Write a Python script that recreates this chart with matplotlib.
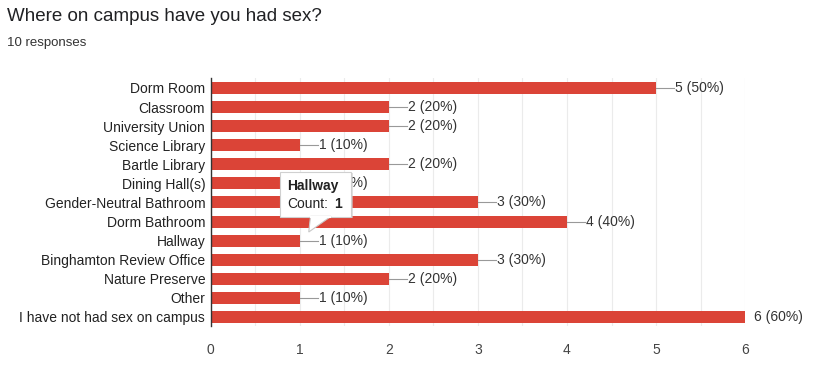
import matplotlib.pyplot as plt
from matplotlib.patches import Polygon

# ---------------------------
# data
# ---------------------------
categories = ['Dorm Room', 'Classroom', 'University Union', 'Science Library',
              'Bartle Library', 'Dining Hall(s)', 'Gender-Neutral Bathroom',
              'Dorm Bathroom', 'Hallway', 'Binghamton Review Office',
              'Nature Preserve', 'Other', 'I have not had sex on campus']
counts = [5, 2, 2, 1, 2, 1, 3, 4, 1, 3, 2, 1, 6]
n_responses = 10
title = 'Where on campus have you had sex?'
tooltip_cat = 'Hallway'

plt.rcParams['font.family'] = ['Liberation Sans', 'DejaVu Sans']

fig = plt.figure(figsize=(8.17, 3.77), dpi=100)
ax = fig.add_axes([0.258, 0.134, 0.654, 0.658])

red = '#db4437'
ypos = list(range(len(categories)))
ax.barh(ypos, counts, height=0.63, color=red, zorder=3)

# value labels
for y, c in zip(ypos, counts):
    lab = '%d (%d%%)' % (c, round(100 * c / n_responses))
    if c == max(counts):
        ax.text(c + 0.1, y, lab, va='center', ha='left', fontsize=10, color='#333333', zorder=4)
    else:
        ax.plot([c, c + 0.2], [y, y], color='#999999', lw=0.8, zorder=4)
        ax.text(c + 0.21, y, lab, va='center', ha='left', fontsize=10, color='#333333', zorder=4)

ax.set_xlim(0, 6)
ax.set_ylim(len(categories) - 0.5, -0.5)
ax.set_yticks(ypos)
ax.set_yticklabels(categories, fontsize=10, color='#222222')
ax.set_xticks(range(0, 7))
ax.set_xticklabels([str(i) for i in range(0, 7)], fontsize=10, color='#444444')
ax.set_xticks([i + 0.5 for i in range(6)], minor=True)
ax.tick_params(axis='both', which='both', length=0, pad=4)
ax.tick_params(axis='x', pad=12)
ax.grid(axis='x', which='both', color='#ebebeb', lw=0.8, zorder=0)

for s in ['top', 'right', 'bottom']:
    ax.spines[s].set_visible(False)
ax.spines['left'].set_color('#333333')
ax.spines['left'].set_linewidth(1)
ax.spines['left'].set_zorder(5)

# tooltip over the hallway bar
ti = categories.index(tooltip_cat)
tv = counts[ti]
bx0, bx1 = 0.78, 1.58
by0, by1 = ti - 3.6, ti - 1.25
shadow = plt.Rectangle((bx0 + 0.02, by0 + 0.08), bx1 - bx0, by1 - by0,
                       facecolor='#cccccc', edgecolor='none', zorder=6, alpha=0.6)
ax.add_patch(shadow)
box = plt.Rectangle((bx0, by0), bx1 - bx0, by1 - by0,
                    facecolor='white', edgecolor='#d0d0d0', lw=0.8, zorder=7)
ax.add_patch(box)
tri = Polygon([[tv + 0.12, by1 - 0.02], [tv + 0.35, by1 - 0.02], [tv + 0.1, ti - 0.45]],
              closed=True, facecolor='white', edgecolor='#c8c8c8', lw=0.8, zorder=7)
ax.add_patch(tri)
ax.plot([tv + 0.13, tv + 0.34], [by1, by1], color='white', lw=1.5, zorder=8)
ax.text(bx0 + 0.08, by0 + 0.75, tooltip_cat, fontsize=10, fontweight='bold',
        color='#222222', va='center', ha='left', zorder=9)
ax.text(bx0 + 0.08, by0 + 1.7, 'Count:', fontsize=10, color='#222222',
        va='center', ha='left', zorder=9)
ax.text(bx0 + 0.6, by0 + 1.7, str(tv), fontsize=10, fontweight='bold', color='#222222',
        va='center', ha='left', zorder=9)

fig.text(0.008, 0.955, title, fontsize=13.5, color='#202124', va='center', ha='left')
fig.text(0.008, 0.885, '%d responses' % n_responses, fontsize=9.5, color='#333333',
         va='center', ha='left')

fig.savefig('out.png', dpi=100)
